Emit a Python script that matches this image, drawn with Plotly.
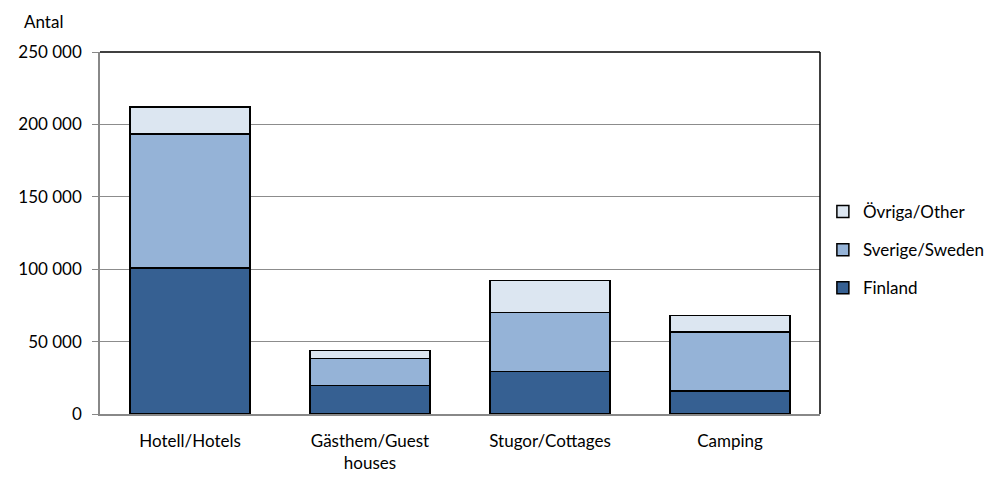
import plotly.graph_objects as go

categories = ["Hotell/Hotels", "Gästhem/Guest<br>houses", "Stugor/Cottages", "Camping"]
finland = [101000, 19600, 29200, 15900]
sverige = [92500, 18600, 41000, 40700]
ovriga = [18500, 5500, 21900, 11300]
tick_vals = [0, 50000, 100000, 150000, 200000, 250000]

FONT = "Lato"
FS = 17

fig = go.Figure()
series = [
    ("Finland", finland, "#366092", 3),
    ("Sverige/Sweden", sverige, "#95B3D7", 2),
    ("Övriga/Other", ovriga, "#DCE6F1", 1),
]
for name, vals, col, rank in series:
    fig.add_trace(go.Bar(
        x=categories, y=vals, name=name, legendgroup=name, legendrank=rank,
        marker=dict(color=col, line=dict(color="black", width=1.5)),
    ))

# page body has an 8px default margin; compensate
fig.update_layout(
    barmode="stack",
    bargap=1/3,
    width=985, height=470,
    margin=dict(l=92, r=173, t=44, b=64, autoexpand=False),
    plot_bgcolor="white", paper_bgcolor="white",
    separators=", ",
    font=dict(family=FONT, size=FS, color="black"),
    legend=dict(
        x=1.004, y=0.453, xanchor="left", yanchor="middle",
        traceorder="grouped", tracegroupgap=13,
        font=dict(family=FONT, size=FS),
        itemwidth=30,
    ),
    showlegend=True,
)
fig.update_xaxes(
    showline=True, linecolor="#888888", linewidth=1.5,
    ticks="", tickfont=dict(size=FS), ticklabelstandoff=11,
)
fig.update_yaxes(
    range=[0, 250000], tickvals=tick_vals, tickformat=",d",
    showgrid=True, gridcolor="#8c8c8c", gridwidth=1,
    showline=True, linecolor="#888888", linewidth=1.5,
    ticks="outside", ticklen=6, tickcolor="#888888",
    tickfont=dict(size=FS), zeroline=False, ticklabelstandoff=7,
)
fig.add_shape(type="line", xref="paper", yref="paper", x0=0, x1=1, y0=1, y1=1,
              line=dict(color="black", width=1.5))
fig.add_shape(type="line", xref="paper", yref="paper", x0=1, x1=1, y0=0, y1=1,
              line=dict(color="black", width=1.5))
fig.add_annotation(text="Antal", xref="paper", yref="paper", x=-0.108, y=1.083,
                   xanchor="left", yanchor="middle", showarrow=False,
                   font=dict(family=FONT, size=FS))

fig.write_html("out.html")
